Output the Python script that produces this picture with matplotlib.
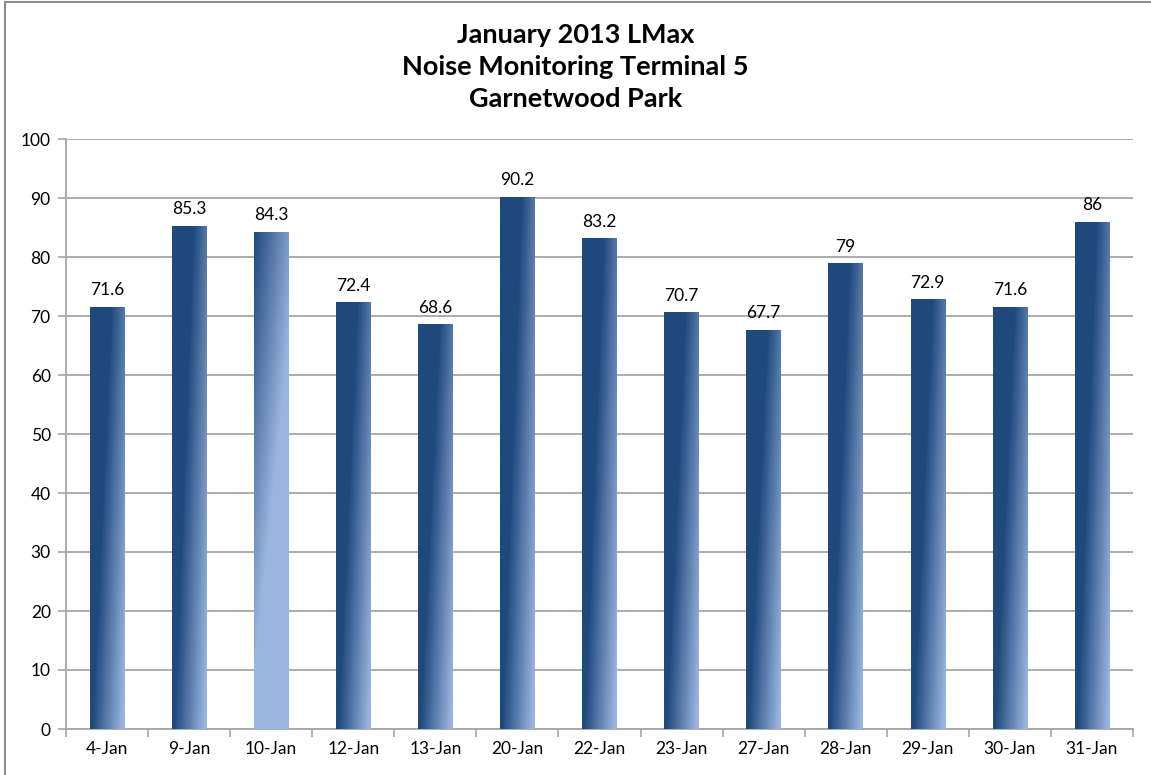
import numpy as np
import matplotlib
matplotlib.use("Agg")
import matplotlib.pyplot as plt
from matplotlib.colors import to_rgb
from matplotlib.lines import Line2D

dates = ["4-Jan", "9-Jan", "10-Jan", "12-Jan", "13-Jan", "20-Jan", "22-Jan",
         "23-Jan", "27-Jan", "28-Jan", "29-Jan", "30-Jan", "31-Jan"]
lmax = [71.6, 85.3, 84.3, 72.4, 68.6, 90.2, 83.2, 70.7, 67.7, 79, 72.9, 71.6, 86]
labels = ["71.6", "85.3", "84.3", "72.4", "68.6", "90.2", "83.2",
          "70.7", "67.7", "79", "72.9", "71.6", "86"]
highlight = "10-Jan"

plt.rcParams['font.family'] = ['Lato', 'DejaVu Sans']

dark = np.array(to_rgb('#1F497D'))
light = np.array(to_rgb('#9AB5E0'))
grid_col = '#A6A6A6'

fig = plt.figure(figsize=(11.51, 7.75), dpi=100)
ax = fig.add_axes([66 / 1151, 46 / 775, (1133 - 66) / 1151, 590 / 775])

x = np.arange(len(dates))
bars = ax.bar(x, lmax, width=0.42, color='none', edgecolor='none', zorder=3)

# gradient fill per bar (u across, v up)
u, v = np.meshgrid(np.linspace(0, 1, 60), np.linspace(0, 1, 200))
for bar, d in zip(bars, dates):
    if d == highlight:
        s = 0.6 * u + 0.9 * (1 - v)
        t = np.clip(s / 0.8, 0, 1)
    else:
        s = 0.8 * u + 0.45 * (1 - v)
        t = np.clip((s - 0.5) / 0.7, 0, 1)
    img = dark[None, None, :] + (light - dark)[None, None, :] * t[..., None]
    bx, by = bar.get_x(), bar.get_y()
    bw, bh = bar.get_width(), bar.get_height()
    im = ax.imshow(img, extent=(bx, bx + bw, by, by + bh), origin='lower',
                   aspect='auto', zorder=3, interpolation='bilinear')
    im.set_clip_path(bar)

for xi, val, lab in zip(x, lmax, labels):
    ax.annotate(lab, (xi, val), xytext=(0, 6), textcoords='offset points',
                ha='center', va='bottom', fontsize=12.5, color='#000000')

ax.set_xlim(-0.5, len(dates) - 0.5)
ax.set_ylim(0, 100)
ax.set_yticks(range(0, 101, 10))
ax.set_xticks(x)
ax.set_xticklabels(dates)
ax.set_xticks(np.arange(-0.5, len(dates), 1), minor=True)
ax.tick_params(axis='x', which='major', length=0, pad=9, labelsize=12.5)
ax.tick_params(axis='x', which='minor', length=6, width=1.2, color=grid_col)
ax.tick_params(axis='y', length=6, width=1.2, color=grid_col, pad=5, labelsize=12.5)

ax.yaxis.grid(True, color=grid_col, linewidth=1.3, zorder=0)
ax.set_axisbelow(True)
for side in ['top', 'right']:
    ax.spines[side].set_visible(False)
for side in ['left', 'bottom']:
    ax.spines[side].set_color(grid_col)
    ax.spines[side].set_linewidth(1.3)

fig.text(0.5, 1 - 23 / 775, "January 2013 LMax\nNoise Monitoring Terminal 5\nGarnetwood Park",
         ha='center', va='top', fontsize=19.5, fontweight='bold', linespacing=1.39)

# chart area border (top and left visible)
fig.add_artist(Line2D([5 / 1151, 5 / 1151], [0, 1 - 2 / 775], transform=fig.transFigure,
                      color='#8C8C8C', linewidth=1.5))
fig.add_artist(Line2D([5 / 1151, 1], [1 - 2 / 775, 1 - 2 / 775], transform=fig.transFigure,
                      color='#8C8C8C', linewidth=1.5))

fig.savefig("out.png", dpi=100, facecolor='white')
